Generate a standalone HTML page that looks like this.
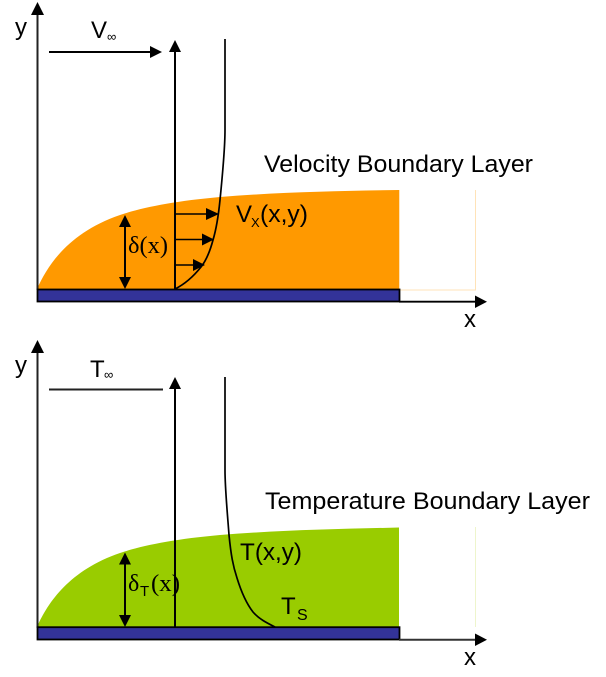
<!DOCTYPE html>
<html>
<head>
<meta charset="utf-8">
<style>
html,body{margin:0;padding:0;background:#fff}
svg{display:block}
text{font-family:"Liberation Sans",sans-serif;fill:#000}
.s{font-family:"Liberation Serif",serif}
</style>
</head>
<body>
<svg width="606" height="677" viewBox="0 0 606 677" xmlns="http://www.w3.org/2000/svg">
<!-- TOP -->
<path d="M399.5 190V290H475.5V190" fill="none" stroke="#ffe3b8" stroke-width="1"/>
<path d="M37 289C48 264 70 232 120 215C142 207.500 175 201 220 197C280 192 340 191 399 190V290H37Z" fill="#ff9900"/>
<line x1="37.5" y1="290" x2="37.5" y2="12" stroke="#222" stroke-width="2"/>
<path d="M37.5 2L44 15H31Z" fill="#000"/>
<line x1="49" y1="52" x2="152" y2="52" stroke="#000" stroke-width="2"/>
<path d="M162 52L150 46V58Z" fill="#000"/>
<line x1="175" y1="289" x2="175" y2="50" stroke="#000" stroke-width="2"/>
<path d="M175 40L181 52H169Z" fill="#000"/>
<path d="M225 39V130C225 150 222 180 220 200C218 220 216 230 213 240C209 255 205 262 201 267C193 277 185 284 175 289" fill="none" stroke="#000" stroke-width="1.7"/>
<line x1="175" y1="214" x2="208" y2="214" stroke="#000" stroke-width="1.6"/>
<path d="M219 214L206 208V220Z" fill="#000"/>
<line x1="175" y1="239.500" x2="204" y2="239.500" stroke="#000" stroke-width="1.600"/>
<path d="M214 239.500L202 233.500V245.500Z" fill="#000"/>
<line x1="175" y1="265" x2="195" y2="265" stroke="#000" stroke-width="1.600"/>
<path d="M205 265L193 259V271Z" fill="#000"/>
<line x1="125" y1="225" x2="125" y2="280" stroke="#000" stroke-width="2"/>
<path d="M125 215L131 227H119Z" fill="#000"/>
<path d="M125 289L131 277H119Z" fill="#000"/>
<rect x="37.500" y="289.500" width="362" height="12" fill="#333399" stroke="#000" stroke-width="1.800"/>
<line x1="399" y1="301.700" x2="477" y2="301.700" stroke="#000" stroke-width="1.800"/>
<path d="M487 301.700L475 295.500V308Z" fill="#000"/>

<text x="15" y="35" font-size="24">y</text>
<text x="91" y="38" font-size="24">V</text>
<text x="107" y="41" font-size="13">∞</text>
<text x="264" y="172" font-size="24" textLength="269" lengthAdjust="spacingAndGlyphs">Velocity Boundary Layer</text>
<text x="236" y="222" font-size="24">V</text>
<text x="251" y="227" font-size="13">X</text>
<text x="260" y="222" font-size="24" textLength="48" lengthAdjust="spacingAndGlyphs">(x,y)</text>
<text class="s" x="128" y="253" font-size="24" textLength="40" lengthAdjust="spacingAndGlyphs">δ(x)</text>
<text x="464" y="327" font-size="24">x</text>

<!-- BOTTOM -->
<path d="M475.500 527V627" fill="none" stroke="#eef5cc" stroke-width="1"/>
<path d="M37 627C48 602 70 570 120 553C142 545.500 175 539 220 535C280 530 340 529 399 527.500V627H37Z" fill="#99cc00"/>
<line x1="37.500" y1="628" x2="37.500" y2="350" stroke="#222" stroke-width="2"/>
<path d="M37.500 340L44 353H31Z" fill="#000"/>
<line x1="49" y1="389.500" x2="163" y2="389.500" stroke="#222" stroke-width="2"/>
<line x1="175" y1="627" x2="175" y2="387" stroke="#000" stroke-width="2"/>
<path d="M175 377L181 389H169Z" fill="#000"/>
<path d="M225 377V470C225 490 228 520 229 535C231 555 233 566 237 578C241 591 246 603 253 612C259 619 267 623 275 627" fill="none" stroke="#000" stroke-width="1.700"/>
<line x1="125" y1="563" x2="125" y2="618" stroke="#000" stroke-width="2"/>
<path d="M125 552.500L131 564.500H119Z" fill="#000"/>
<path d="M125 627L131 615H119Z" fill="#000"/>
<rect x="37.500" y="627.200" width="362" height="12.300" fill="#333399" stroke="#000" stroke-width="1.800"/>
<line x1="399" y1="639.700" x2="477" y2="639.700" stroke="#333" stroke-width="2"/>
<path d="M487 639.700L475 633.500V646Z" fill="#000"/>

<text x="15" y="373" font-size="24">y</text>
<text x="90" y="377" font-size="24">T</text>
<text x="104" y="379" font-size="13">∞</text>
<text x="265" y="509" font-size="24" textLength="325" lengthAdjust="spacingAndGlyphs">Temperature Boundary Layer</text>
<text x="240" y="560" font-size="24" textLength="62" lengthAdjust="spacingAndGlyphs">T(x,y)</text>
<text x="281" y="614" font-size="24">T</text>
<text x="297" y="620" font-size="16">S</text>
<text class="s" x="128" y="591" font-size="24">δ</text>
<text x="140" y="596" font-size="15">T</text>
<text class="s" x="151" y="591" font-size="24" textLength="29" lengthAdjust="spacingAndGlyphs">(x)</text>
<text x="464" y="665" font-size="24">x</text>
</svg>
</body>
</html>
